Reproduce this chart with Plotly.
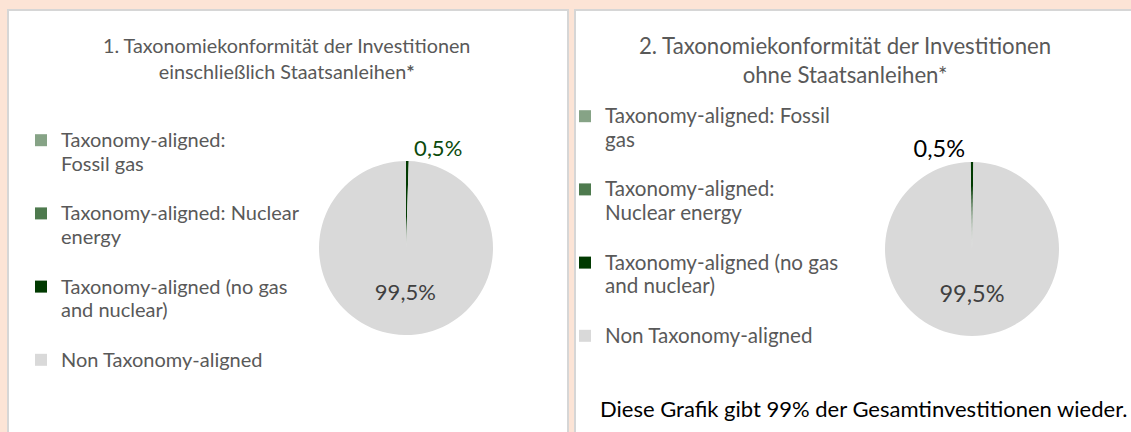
import plotly.graph_objects as go

W, H = 1131, 432

# Werte der beiden Kreisdiagramme (in %)
labels_left = [
    "Taxonomy-aligned:<br>Fossil gas",
    "Taxonomy-aligned: Nuclear<br>energy",
    "Taxonomy-aligned (no gas<br>and nuclear)",
    "Non Taxonomy-aligned",
]
labels_right = [
    "Taxonomy-aligned: Fossil<br>gas",
    "Taxonomy-aligned:<br>Nuclear energy",
    "Taxonomy-aligned (no gas<br>and nuclear)",
    "Non Taxonomy-aligned",
]
values_incl = [0.0, 0.0, 0.5, 99.5]
values_excl = [0.0, 0.0, 0.5, 99.5]

title_left = "1. Taxonomiekonformität der Investitionen<br>einschließlich Staatsanleihen<b>*</b>"
title_right = "2. Taxonomiekonformität der Investitionen<br>ohne Staatsanleihen*"
footer = "Diese Grafik gibt 99% der Gesamtinvestitionen wieder."

COLORS = ["#86A386", "#4E7A4E", "#013A01", "#D9D9D9"]
FONT = "Lato, 'Open Sans', sans-serif"
GREY = "#595959"


def px_x(x):
    return x / W


def px_y(y):
    return (H - y) / H


def fmt(v):
    return f"{v:.1f}".replace(".", ",") + "%" if v > 0 else ""


def legend_label(lab, last, size):
    # größere Schrift im Text, kleinere Basis für engeren Zeilenabstand
    lines = [f"<span style='font-size:{size}px'>{s}</span>" for s in lab.split("<br>")]
    txt = "<br>".join(lines)
    return txt if last else txt + "<br> "


def pie(labels, values, x0, x1, y0, y1, legend, out_color, txt_size, leg_size, rot):
    n = len(labels)
    return go.Pie(
        labels=[legend_label(l, i == n - 1, leg_size) for i, l in enumerate(labels)],
        values=values,
        text=[fmt(v) for v in values],
        textinfo="text",
        textposition=["inside", "inside", "outside", "inside"],
        insidetextorientation="horizontal",
        insidetextfont=dict(family=FONT, size=txt_size, color="#404040"),
        outsidetextfont=dict(family=FONT, size=txt_size, color=out_color),
        marker=dict(colors=COLORS, line=dict(width=0)),
        sort=False,
        direction="clockwise",
        rotation=rot,
        domain=dict(x=[px_x(x0), px_x(x1)], y=[px_y(y1), px_y(y0)]),
        legend=legend,
        hoverinfo="label+percent",
    )


fig = go.Figure()
fig.add_trace(pie(labels_left, values_incl, 319, 493, 161, 335, "legend",
                  "#0B4A0B", 22, 20, 0))
fig.add_trace(pie(labels_right, values_excl, 885, 1059, 162, 336, "legend2",
                  "#000000", 23.5, 20.6, -0.9))

# Panels
shapes = []
for x0, x1 in [(8, 568), (575, 1140)]:
    shapes.append(dict(type="rect", xref="paper", yref="paper",
                       x0=px_x(x0), x1=px_x(x1), y0=px_y(445), y1=px_y(10),
                       fillcolor="white", line=dict(color="#D6D6D6", width=2),
                       layer="below"))

annotations = [
    dict(text=title_left, x=px_x(286), y=px_y(58.5), xref="paper", yref="paper",
         showarrow=False, xanchor="center", yanchor="middle", align="center",
         font=dict(family=FONT, size=19.8, color=GREY)),
    dict(text=title_right, x=px_x(845), y=px_y(60.5), xref="paper", yref="paper",
         showarrow=False, xanchor="center", yanchor="middle", align="center",
         font=dict(family=FONT, size=22.2, color=GREY)),
    dict(text=footer, x=px_x(598), y=px_y(408), xref="paper", yref="paper",
         showarrow=False, xanchor="left", yanchor="middle",
         font=dict(family=FONT, size=22, color="#000000")),
]

legend_style = dict(font=dict(family=FONT, size=18, color=GREY),
                    bgcolor="rgba(0,0,0,0)", xanchor="left", yanchor="top",
                    valign="top", orientation="v")

fig.update_layout(
    width=W, height=H,
    margin=dict(l=0, r=0, t=0, b=0),
    paper_bgcolor="#FCE4D6",
    plot_bgcolor="#FCE4D6",
    font=dict(family=FONT, color=GREY),
    shapes=shapes,
    annotations=annotations,
    showlegend=True,
    legend=dict(x=px_x(21), y=px_y(122), **legend_style),
    legend2=dict(x=px_x(565), y=px_y(98), **legend_style),
)

fig.write_html("out.html", config={"displayModeBar": False},
               post_script="document.body.style.margin='0';")
